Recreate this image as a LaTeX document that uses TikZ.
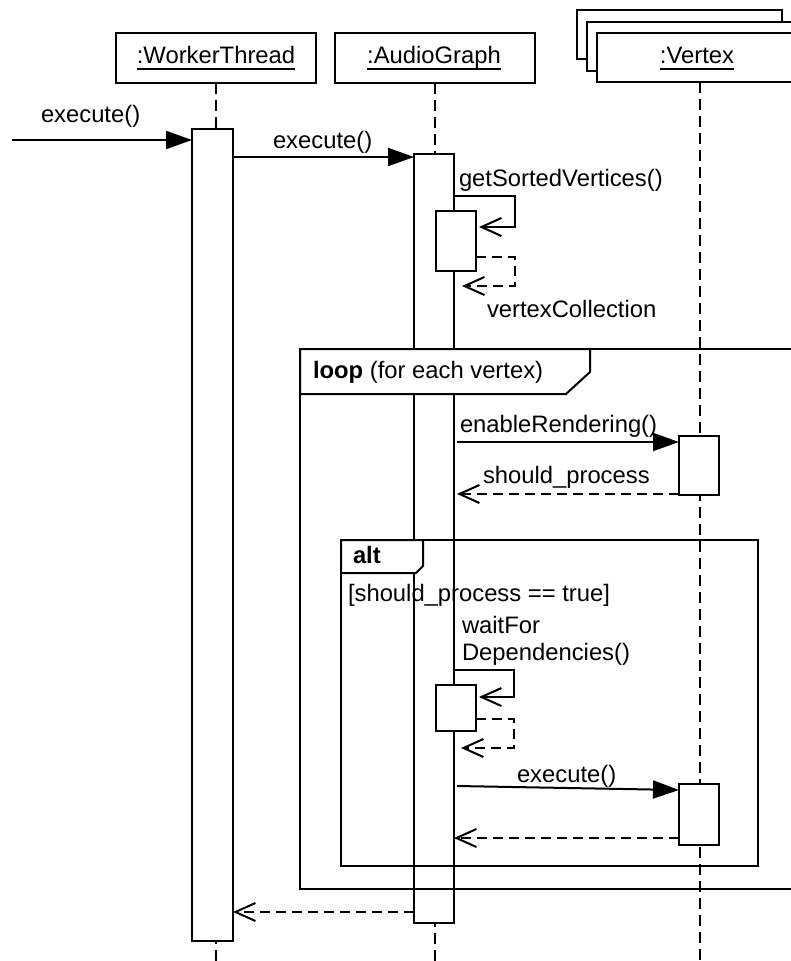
\documentclass[tikz,border=0pt]{standalone}
\usepackage{fontspec}
\setmainfont{Liberation Sans}
\usetikzlibrary{arrows.meta}
\begin{document}
\begin{tikzpicture}[x=1pt,y=-1pt,
  every node/.style={font=\fontsize{23.8}{28}\selectfont, inner sep=0pt, outer sep=0pt},
  ln/.style={line width=2pt},
  head/.style={draw, fill=white, line width=2pt, anchor=north west,
               minimum width=205pt, minimum height=49pt},
  act/.style={draw, fill=white, line width=2pt, anchor=north west, minimum width=40pt},
  life/.style={line width=2pt, dash pattern=on 11pt off 6pt},
  call/.style={line width=2pt, -{Triangle[length=26pt,width=18pt]}},
  selfcall/.style={line width=2pt, -{Straight Barb[length=20pt,width=18pt]}},
  reply/.style={line width=2pt, dash pattern=on 10pt off 6pt,
                -{Straight Barb[length=20pt,width=18pt]}},
  frame/.style={draw, line width=2pt},
  tab/.style={draw, fill=white, line width=2pt},
  lbl/.style={anchor=base west},
  uline/.style={line width=2pt},
]
\useasboundingbox (0,0) rectangle (791,961);
\fill[white] (0,0) rectangle (791,961);
\clip (0,0) rectangle (791,961);

% bottom reference for the lifelines
\coordinate (bottom) at (0,961);

% ---- lifeline heads ----
\node[head, minimum width=200pt, minimum height=50pt] (wthead) at (116,33) {};
\node[head, minimum width=200pt, minimum height=50pt] (aghead) at (335,33) {};
\node[head] (vhead3) at (577,10) {};
\node[head] (vhead2) at (587,22) {};
\node[head] (vhead1) at (597,33) {};

\node[anchor=base] (wtname) at (216,63) {:WorkerThread};
\node[anchor=base] (agname) at (434,63) {:AudioGraph};
\node[anchor=base] (vname) at (697,63) {:Vertex};
\foreach \n in {wtname,agname,vname}
  \draw[uline] ([yshift=-6pt]\n.base west) -- ([yshift=-6pt]\n.base east);

% ---- lifelines ----
\draw[life] (wthead.south) -- (wthead.south |- bottom);
\draw[life] (aghead.south) -- (aghead.south |- bottom);
\draw[life] (vhead1.south) -- (vhead1.south |- bottom);

% ---- activations ----
\node[act, minimum width=41pt, minimum height=812pt] (wtact) at (192,129) {};
\node[act, minimum height=769pt] (agact) at (414,154) {};
\node[act, minimum height=60pt] (nest1) at (436,211) {};
\node[act, minimum height=46pt] (nest2) at (436,685) {};
\node[act, minimum height=59pt] (va1) at (679,436) {};
\node[act, minimum height=61pt] (va2) at (679,784) {};

% ---- combined fragments ----
\draw[frame] (300,349) rectangle (810,889);
\draw[tab] (300,349) -- (590,349) -- (590,372) -- (566,394) -- (300,394) -- cycle;
\node[lbl] (looplbl) at (313,378) {\textbf{loop} (for each vertex)};

\draw[frame] (341,540) rectangle (758,866);
\draw[tab] (341,540) -- (423,540) -- (423,566) -- (416,573) -- (341,573) -- cycle;
\node[lbl] (altlbl) at (353,563) {\textbf{alt}};
\node[lbl] (guard) at (348,601) {[should\_process == true]};

% ---- message anchors ----
\coordinate (src) at (12,140);
\coordinate (m2) at (0,157);
\coordinate (s1a) at (0,196);
\coordinate (s1b) at (515,196);
\coordinate (s1c) at (515,227);
\coordinate (s1d) at (479,227);
\coordinate (r1a) at (0,257);
\coordinate (r1b) at (515,257);
\coordinate (r1c) at (515,286);
\coordinate (r1d) at (462,286);
\coordinate (m3) at (0,442);
\coordinate (r3) at (0,494);
\coordinate (s2a) at (0,670);
\coordinate (s2b) at (514,670);
\coordinate (s2c) at (514,697);
\coordinate (s2d) at (479,697);
\coordinate (r2a) at (0,719);
\coordinate (r2b) at (514,719);
\coordinate (r2c) at (514,748);
\coordinate (r2d) at (461,748);
\coordinate (e3s) at (457,786);
\coordinate (e3e) at (0,790);
\coordinate (r4) at (0,838);
\coordinate (r5) at (0,912);

% ---- messages ----
\draw[call] (src) -- (wtact.west |- src);
\node[lbl] (l1) at (41,122) {execute()};

\draw[call] (wtact.east |- m2) -- (agact.west |- m2);
\node[lbl] (l2) at (273,148) {execute()};

\draw[selfcall] (agact.east |- s1a) -- (s1b) -- (s1c) -- (s1d);
\node[lbl] (l3) at (459,186) {getSortedVertices()};
\draw[reply] (nest1.east |- r1a) -- (r1b) -- (r1c) -- (r1d);
\node[lbl] (l4) at (487,317) {vertexCollection};

\draw[call] ([xshift=3pt]agact.east |- m3) -- (va1.west |- m3);
\node[lbl] (l5) at (460,432) {enableRendering()};
\draw[reply] (va1.west |- r3) -- ([xshift=3pt]agact.east |- r3);
\node[lbl] (l6) at (483,483) {should\_process};

\draw[selfcall] (agact.east |- s2a) -- (s2b) -- (s2c) -- (s2d);
\node[lbl] (l7a) at (462,633) {waitFor};
\node[lbl] (l7b) at (462,660) {Dependencies()};
\draw[reply] (nest2.east |- r2a) -- (r2b) -- (r2c) -- (r2d);

\draw[call] (e3s) -- (va2.west |- e3e);
\node[lbl] (l8) at (517,782) {execute()};
\draw[reply] (va2.west |- r4) -- (agact.east |- r4);

\draw[reply] (agact.west |- r5) -- (wtact.east |- r5);
\end{tikzpicture}
\end{document}
